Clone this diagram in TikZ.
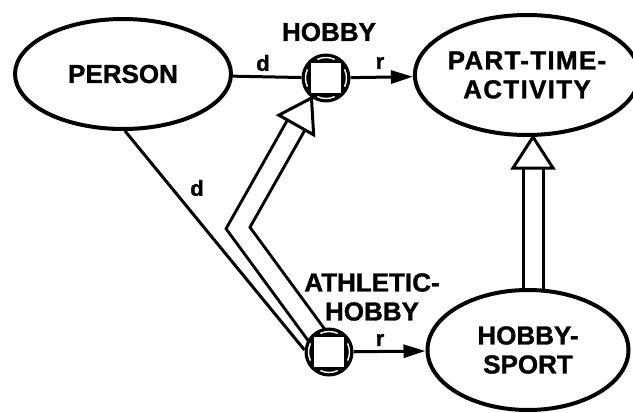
\documentclass[tikz,border=0pt]{standalone}
\usepackage{fontspec}
\setmainfont[BoldFeatures={FakeBold=1.2}]{Liberation Sans}
\usetikzlibrary{shapes.geometric,arrows.meta,calc}
\pgfdeclarelayer{background}
\pgfsetlayers{background,main}

\begin{document}
\begin{tikzpicture}[x=1pt,y=-1pt,
  every node/.style={font=\bfseries\fontsize{26}{29}\selectfont, align=center},
  entity/.style={ellipse, draw, line width=4pt, fill=white, inner sep=0pt},
  relbox/.style={circle, fill=black, minimum size=49pt, inner sep=0pt},
  link/.style={line width=3pt},
  role/.style={font=\bfseries\fontsize{22}{24}\selectfont},
  toarrow/.style={link, -{Triangle[length=22pt,width=13pt]}},
  shaft/.style={draw=black, line width=3pt, double=white, double distance=17pt, line join=miter},
  hollowhead/.style={draw=black, line width=3pt, fill=white, line join=miter},
  spaced/.style={font=\bfseries\fontsize{26}{29}\selectfont\addfontfeature{LetterSpace=5}},
]
\useasboundingbox (0,0) rectangle (633,413);

% entity types
\node[entity, minimum width=216pt, minimum height=110pt] (person) at (123,74) {PERSON};
\node[entity, spaced, minimum width=200pt, minimum height=120pt] (pta) at (527,75) {PART-TIME-\\ACTIVITY};
\node[entity, minimum width=201pt, minimum height=120pt] (hs) at (528,350) {HOBBY-\\SPORT};

% relation boxes
\node[relbox] (hobby) at (326,78) {};
\node[relbox] (athl) at (329,352) {};
\foreach \rel in {hobby,athl}{
  \fill[white] ($(\rel)+(-15,-15)$) rectangle ($(\rel)+(15,15)$);
  \foreach \a in {0,90,180,270}
    \draw[white, line width=1.4pt] ($(\rel)+(\a-25:20.5)$) arc[start angle=\a-25, end angle=\a+25, radius=20.5];
}

% labels
\node (hobbylbl) at (329,32) {HOBBY};
\node (athllbl) at (372,297) {ATHLETIC-\\HOBBY};
\node[role] (d1) at (263,63) {d};
\node[role] (r1) at (380,63) {r};
\node[role] (d2) at (197,188) {d};
\node[role] (r2) at (380,340) {r};

% domain / range connectors
\draw[link] (person) -- (hobby);
\draw[toarrow] (hobby) -- (pta);
\draw[link] (person.272) -- (athl.175);
\draw[toarrow] (athl) -- (hs);

% subsumption arrows
\coordinate (bend) at (238,228);
\coordinate (htip) at (hobby.234);
\coordinate (hbase) at ($(htip)!31pt!(bend)$);
\coordinate (vtip) at ($(pta.south)+(6,0)$);
\coordinate (vbase) at ($(vtip)+(0,31)$);
\begin{pgfonlayer}{background}
  \draw[shaft] (athl.center) -- (bend) -- (hbase);
  \draw[shaft] ($(hs.north -| vtip)+(0,4)$) -- (vbase);
\end{pgfonlayer}
\draw[hollowhead] (htip) -- ($(hbase)!20pt!90:(htip)$) -- ($(hbase)!20pt!-90:(htip)$) -- cycle;
\draw[hollowhead] (vtip) -- ($(vbase)+(-20,0)$) -- ($(vbase)+(20,0)$) -- cycle;
\end{tikzpicture}
\end{document}
